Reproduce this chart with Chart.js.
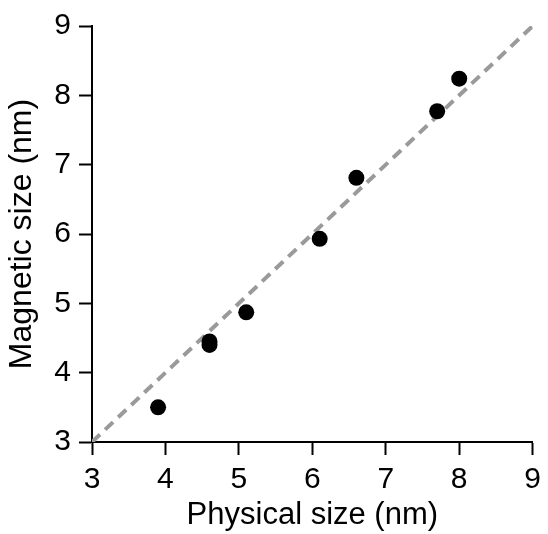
<!DOCTYPE html>
<html>
<head>
<meta charset="utf-8">
<script src="https://cdn.jsdelivr.net/npm/chart.js@4"></script>
<style>
  html, body { margin: 0; padding: 0; background: #fff; }
  #wrap { width: 548px; height: 534px; }
</style>
</head>
<body>
<div id="wrap"><canvas id="sizeChart"></canvas></div>
<script>
// particle sizes, physical (TEM) vs magnetic fit
const physicalSize = [3.9, 4.6, 4.6, 5.1, 6.1, 6.6, 7.7, 8.0];
const magneticSize = [3.50, 4.45, 4.40, 4.87, 5.93, 6.81, 7.77, 8.24];
// y = x reference line
const identityX = [3, 9];
const identityY = [3, 9];
const tickValues = [3, 4, 5, 6, 7, 8, 9];

const family = 'Liberation Sans, Arial, Helvetica, sans-serif';

document.addEventListener('DOMContentLoaded', () => {
    const ctx = document.getElementById('sizeChart').getContext('2d');

    const axis = (title, titleSize, titlePad) => ({
        type: 'linear',
        min: 3,
        max: 9,
        afterBuildTicks: (scale) => {
            scale.ticks = tickValues.map(v => ({ value: v }));
        },
        grid: {
            display: true,
            drawOnChartArea: false,
            drawTicks: true,
            tickLength: 13,
            tickWidth: 2,
            tickColor: '#000'
        },
        border: { display: true, color: '#000', width: 2 },
        ticks: { color: '#000', font: { family: family, size: 30 }, padding: 8 },
        title: {
            display: true,
            text: title,
            color: '#000',
            font: { family: family, size: titleSize },
            padding: titlePad
        }
    });

    const xAxis = axis('Physical size (nm)', 31, { top: 0, bottom: 0 });
    xAxis.afterFit = (scale) => { scale.height = 92; };
    xAxis.ticks.padding = 7;
    const yAxis = axis('Magnetic size (nm)', 32, { top: 3, bottom: 0 });
    yAxis.afterFit = (scale) => { scale.width = 92; };

    new Chart(ctx, {
        type: 'scatter',
        data: {
            datasets: [
                {
                    label: 'Particles',
                    data: physicalSize.map((x, i) => ({ x: x, y: magneticSize[i] })),
                    backgroundColor: '#000',
                    borderWidth: 0,
                    pointRadius: 8,
                    order: 0
                },
                {
                    label: 'y = x',
                    type: 'line',
                    data: identityX.map((x, i) => ({ x: x, y: identityY[i] })),
                    borderColor: '#9a9a9a',
                    borderWidth: 4,
                    borderDash: [11, 7],
                    pointRadius: 0,
                    fill: false,
                    order: 1
                }
            ]
        },
        options: {
            responsive: true,
            maintainAspectRatio: false,
            animation: false,
            layout: { padding: { top: 25, right: 11, left: 0, bottom: 0 } },
            plugins: {
                legend: { display: false },
                tooltip: { enabled: false }
            },
            scales: { x: xAxis, y: yAxis }
        }
    });
});
</script>
</body>
</html>
